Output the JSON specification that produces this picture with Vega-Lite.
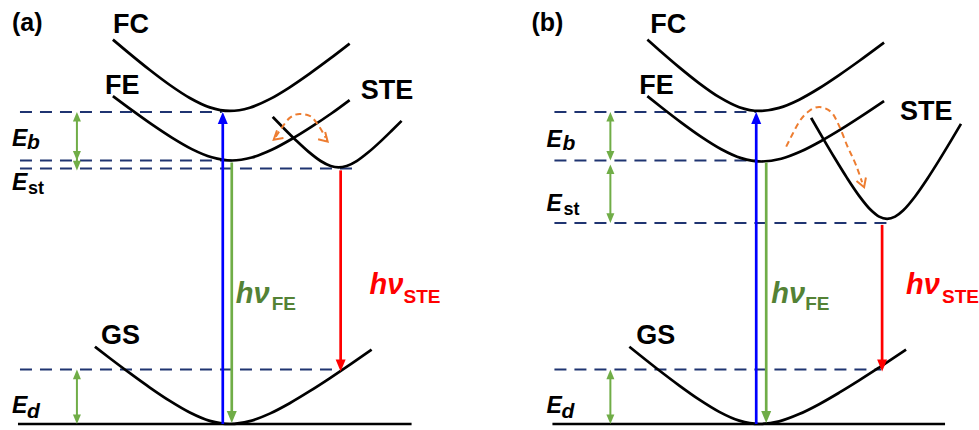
{
  "$schema": "https://vega.github.io/schema/vega-lite/v6.json",
  "width": 979,
  "height": 430,
  "autosize": {"type": "fit", "contains": "padding"},
  "padding": 0,
  "background": "white",
  "config": {"view": {"stroke": null}},
  "datasets": {
    "hlines": [
      {"x": 20, "x2": 222, "y": 113}, {"x": 20, "x2": 232, "y": 162}, {"x": 20, "x2": 355, "y": 170}, {"x": 20, "x2": 337, "y": 373},
      {"x": 555, "x2": 757, "y": 113}, {"x": 555, "x2": 757, "y": 162}, {"x": 555, "x2": 893, "y": 225}, {"x": 555, "x2": 882, "y": 373}
    ],
    "ground": [{"x": 18, "x2": 412, "y": 428}, {"x": 553, "x2": 946, "y": 428}],
    "curves": [
      {"curve": "FC a", "x": 113, "y": 40}, {"curve": "FC a", "x": 130, "y": 54.4}, {"curve": "FC a", "x": 150, "y": 70.7}, {"curve": "FC a", "x": 170, "y": 85.8}, {"curve": "FC a", "x": 190, "y": 98.9}, {"curve": "FC a", "x": 210, "y": 108.4}, {"curve": "FC a", "x": 230, "y": 112}, {"curve": "FC a", "x": 250, "y": 108.7}, {"curve": "FC a", "x": 270, "y": 100.1}, {"curve": "FC a", "x": 290, "y": 88.1}, {"curve": "FC a", "x": 310, "y": 74.3}, {"curve": "FC a", "x": 330, "y": 59.5}, {"curve": "FC a", "x": 350, "y": 44},
      {"curve": "FE a", "x": 113, "y": 97}, {"curve": "FE a", "x": 132, "y": 111.2}, {"curve": "FE a", "x": 152, "y": 125.6}, {"curve": "FE a", "x": 172, "y": 138.9}, {"curve": "FE a", "x": 192, "y": 150.5}, {"curve": "FE a", "x": 212, "y": 158.8}, {"curve": "FE a", "x": 232, "y": 162}, {"curve": "FE a", "x": 252, "y": 159}, {"curve": "FE a", "x": 272, "y": 151.2}, {"curve": "FE a", "x": 292, "y": 140.3}, {"curve": "FE a", "x": 312, "y": 127.8}, {"curve": "FE a", "x": 332, "y": 114.3}, {"curve": "FE a", "x": 350, "y": 101},
      {"curve": "STE a", "x": 273, "y": 118}, {"curve": "STE a", "x": 285, "y": 130.4}, {"curve": "STE a", "x": 297, "y": 142.3}, {"curve": "STE a", "x": 309, "y": 153.3}, {"curve": "STE a", "x": 321, "y": 162.5}, {"curve": "STE a", "x": 331, "y": 167.6}, {"curve": "STE a", "x": 339, "y": 169}, {"curve": "STE a", "x": 347, "y": 167.6}, {"curve": "STE a", "x": 357, "y": 162.6}, {"curve": "STE a", "x": 369, "y": 153.5}, {"curve": "STE a", "x": 381, "y": 142.7}, {"curve": "STE a", "x": 392, "y": 132}, {"curve": "STE a", "x": 402, "y": 122},
      {"curve": "GS a", "x": 95, "y": 350}, {"curve": "GS a", "x": 110, "y": 361.6}, {"curve": "GS a", "x": 130, "y": 376.7}, {"curve": "GS a", "x": 150, "y": 391.2}, {"curve": "GS a", "x": 170, "y": 404.7}, {"curve": "GS a", "x": 190, "y": 416.4}, {"curve": "GS a", "x": 210, "y": 424.8}, {"curve": "GS a", "x": 230, "y": 428}, {"curve": "GS a", "x": 250, "y": 425.1}, {"curve": "GS a", "x": 270, "y": 417.5}, {"curve": "GS a", "x": 290, "y": 407}, {"curve": "GS a", "x": 310, "y": 394.9}, {"curve": "GS a", "x": 330, "y": 381.9}, {"curve": "GS a", "x": 350, "y": 368.3}, {"curve": "GS a", "x": 372, "y": 353},
      {"curve": "FC b", "x": 648, "y": 40}, {"curve": "FC b", "x": 660, "y": 50.7}, {"curve": "FC b", "x": 680, "y": 68}, {"curve": "FC b", "x": 700, "y": 84.1}, {"curve": "FC b", "x": 720, "y": 98.1}, {"curve": "FC b", "x": 740, "y": 108.2}, {"curve": "FC b", "x": 760, "y": 112}, {"curve": "FC b", "x": 780, "y": 108.9}, {"curve": "FC b", "x": 800, "y": 100.6}, {"curve": "FC b", "x": 820, "y": 89.1}, {"curve": "FC b", "x": 840, "y": 75.8}, {"curve": "FC b", "x": 860, "y": 61.6}, {"curve": "FC b", "x": 885, "y": 43},
      {"curve": "FE b", "x": 648, "y": 97}, {"curve": "FE b", "x": 662, "y": 108.2}, {"curve": "FE b", "x": 682, "y": 123.7}, {"curve": "FE b", "x": 702, "y": 138.1}, {"curve": "FE b", "x": 722, "y": 150.6}, {"curve": "FE b", "x": 742, "y": 159.6}, {"curve": "FE b", "x": 762, "y": 163}, {"curve": "FE b", "x": 782, "y": 160.2}, {"curve": "FE b", "x": 802, "y": 152.7}, {"curve": "FE b", "x": 822, "y": 142.3}, {"curve": "FE b", "x": 842, "y": 130.4}, {"curve": "FE b", "x": 862, "y": 117.5}, {"curve": "FE b", "x": 885, "y": 102},
      {"curve": "STE b", "x": 812, "y": 119}, {"curve": "STE b", "x": 824, "y": 139.9}, {"curve": "STE b", "x": 836, "y": 160.3}, {"curve": "STE b", "x": 848, "y": 179.8}, {"curve": "STE b", "x": 860, "y": 197.7}, {"curve": "STE b", "x": 872, "y": 212.3}, {"curve": "STE b", "x": 880, "y": 218.7}, {"curve": "STE b", "x": 888, "y": 221}, {"curve": "STE b", "x": 896, "y": 218.7}, {"curve": "STE b", "x": 904, "y": 212.5}, {"curve": "STE b", "x": 916, "y": 198.3}, {"curve": "STE b", "x": 928, "y": 180.9}, {"curve": "STE b", "x": 940, "y": 161.9}, {"curve": "STE b", "x": 952, "y": 142}, {"curve": "STE b", "x": 962, "y": 125},
      {"curve": "GS b", "x": 630, "y": 350}, {"curve": "GS b", "x": 640, "y": 358.1}, {"curve": "GS b", "x": 660, "y": 374}, {"curve": "GS b", "x": 680, "y": 389.2}, {"curve": "GS b", "x": 700, "y": 403.4}, {"curve": "GS b", "x": 720, "y": 415.7}, {"curve": "GS b", "x": 740, "y": 424.6}, {"curve": "GS b", "x": 760, "y": 428}, {"curve": "GS b", "x": 780, "y": 425.3}, {"curve": "GS b", "x": 800, "y": 418}, {"curve": "GS b", "x": 820, "y": 408}, {"curve": "GS b", "x": 840, "y": 396.4}, {"curve": "GS b", "x": 860, "y": 384}, {"curve": "GS b", "x": 880, "y": 371}, {"curve": "GS b", "x": 907, "y": 353}
    ],
    "swirls": [
      {"arc": "a", "x": 276, "y": 138}, {"arc": "a", "x": 282, "y": 129}, {"arc": "a", "x": 290, "y": 119}, {"arc": "a", "x": 300, "y": 115}, {"arc": "a", "x": 310, "y": 117}, {"arc": "a", "x": 319, "y": 127}, {"arc": "a", "x": 326, "y": 139},
      {"arc": "b", "x": 787, "y": 148}, {"arc": "b", "x": 793, "y": 136}, {"arc": "b", "x": 800, "y": 123}, {"arc": "b", "x": 810, "y": 112}, {"arc": "b", "x": 820, "y": 108}, {"arc": "b", "x": 832, "y": 113}, {"arc": "b", "x": 840, "y": 127}, {"arc": "b", "x": 848, "y": 147}, {"arc": "b", "x": 857, "y": 167}, {"arc": "b", "x": 863, "y": 184}
    ],
    "swirlTips": [
      {"end": "a left", "x": 274, "y": 141}, {"end": "a right", "x": 328, "y": 143}, {"end": "b", "x": 865, "y": 189}
    ],
    "shafts": [
      {"kind": "absorption", "x": 223, "y": 428, "y2": 122}, {"kind": "FE emission", "x": 232, "y": 164, "y2": 418}, {"kind": "STE emission", "x": 341, "y": 172, "y2": 364},
      {"kind": "absorption", "x": 757, "y": 428, "y2": 122}, {"kind": "FE emission", "x": 767, "y": 164, "y2": 418}, {"kind": "STE emission", "x": 883, "y": 227, "y2": 364}
    ],
    "gaps": [
      {"x": 77, "y": 119, "y2": 165}, {"x": 77, "y": 379, "y2": 422},
      {"x": 611, "y": 119, "y2": 156}, {"x": 611, "y": 172, "y2": 219}, {"x": 611, "y": 379, "y2": 422}
    ],
    "heads": [
      {"kind": "absorption", "x": 223, "y": 113, "dir": "up"}, {"kind": "FE emission", "x": 232, "y": 427, "dir": "down"}, {"kind": "STE emission", "x": 341, "y": 375, "dir": "down"},
      {"kind": "absorption", "x": 757, "y": 113, "dir": "up"}, {"kind": "FE emission", "x": 767, "y": 427, "dir": "down"}, {"kind": "STE emission", "x": 883, "y": 375, "dir": "down"}
    ],
    "gapHeads": [
      {"x": 77, "y": 113, "dir": "up"}, {"x": 77, "y": 162, "dir": "down"}, {"x": 77, "y": 172, "dir": "down"}, {"x": 77, "y": 373, "dir": "up"}, {"x": 77, "y": 428, "dir": "down"},
      {"x": 611, "y": 113, "dir": "up"}, {"x": 611, "y": 162, "dir": "down"}, {"x": 611, "y": 166, "dir": "up"}, {"x": 611, "y": 225, "dir": "down"}, {"x": 611, "y": 373, "dir": "up"}, {"x": 611, "y": 428, "dir": "down"}
    ],
    "panels": [{"text": "(a)", "x": 12, "y": 31}, {"text": "(b)", "x": 532, "y": 31}],
    "states": [
      {"text": "FC", "x": 113, "y": 33}, {"text": "FE", "x": 105, "y": 95}, {"text": "STE", "x": 361, "y": 100}, {"text": "GS", "x": 101, "y": 347},
      {"text": "FC", "x": 651, "y": 33}, {"text": "FE", "x": 640, "y": 95}, {"text": "STE", "x": 901, "y": 121}, {"text": "GS", "x": 637, "y": 347}
    ],
    "hvFE": [{"text": "hν", "x": 236, "y": 306}, {"text": "hν", "x": 772, "y": 306}],
    "subFE": [{"text": "FE", "x": 272, "y": 313}, {"text": "FE", "x": 806, "y": 313}],
    "hvSTE": [{"text": "hν", "x": 370, "y": 297}, {"text": "hν", "x": 907, "y": 297}],
    "subSTE": [{"text": "STE", "x": 404, "y": 306}, {"text": "STE", "x": 943, "y": 306}],
    "energies": [
      {"text": "E", "x": 12, "y": 147}, {"text": "E", "x": 12, "y": 192}, {"text": "E", "x": 12, "y": 417},
      {"text": "E", "x": 547, "y": 148}, {"text": "E", "x": 547, "y": 213}, {"text": "E", "x": 547, "y": 417}
    ],
    "subItalic": [{"text": "b", "x": 27, "y": 150}, {"text": "d", "x": 27, "y": 422}, {"text": "b", "x": 563, "y": 151}, {"text": "d", "x": 562, "y": 422}],
    "subSt": [{"text": "st", "x": 28, "y": 196}, {"text": "st", "x": 564, "y": 217}]
  },
  "encoding": {
    "x": {"field": "x", "type": "quantitative", "scale": {"domain": [0, 979], "nice": false, "zero": false}, "axis": null},
    "y": {"field": "y", "type": "quantitative", "scale": {"domain": [430, 0], "nice": false, "zero": false}, "axis": null}
  },
  "layer": [
    {"data": {"name": "hlines"}, "mark": {"type": "rule", "color": "#1F3471", "strokeWidth": 2, "strokeDash": [12, 8]}, "encoding": {"x2": {"field": "x2"}}},
    {"data": {"name": "ground"}, "mark": {"type": "rule", "color": "#000000", "strokeWidth": 2.5}, "encoding": {"x2": {"field": "x2"}}},
    {"data": {"name": "curves"}, "mark": {"type": "line", "color": "#000000", "strokeWidth": 2.7, "interpolate": "monotone", "strokeCap": "butt"}, "encoding": {"detail": {"field": "curve", "type": "nominal"}}},
    {"data": {"name": "swirls"}, "mark": {"type": "line", "color": "#ED7D31", "strokeWidth": 2, "strokeDash": [6, 4], "interpolate": "monotone"}, "encoding": {"detail": {"field": "arc", "type": "nominal"}}},
    {"data": {"name": "swirlTips"}, "transform": [{"filter": "datum.end === 'a left'"}], "mark": {"type": "point", "shape": "M-1,-1.7L0,0L1,-1.7", "filled": false, "color": "#ED7D31", "strokeWidth": 2, "size": 100, "opacity": 1, "angle": 50}},
    {"data": {"name": "swirlTips"}, "transform": [{"filter": "datum.end === 'a right'"}], "mark": {"type": "point", "shape": "M-1,-1.7L0,0L1,-1.7", "filled": false, "color": "#ED7D31", "strokeWidth": 2, "size": 100, "opacity": 1, "angle": -45}},
    {"data": {"name": "swirlTips"}, "transform": [{"filter": "datum.end === 'b'"}], "mark": {"type": "point", "shape": "M-1,-1.7L0,0L1,-1.7", "filled": false, "color": "#ED7D31", "strokeWidth": 2, "size": 100, "opacity": 1, "angle": -20}},
    {"data": {"name": "gaps"}, "mark": {"type": "rule", "color": "#70AD47", "strokeWidth": 2}, "encoding": {"y2": {"field": "y2"}}},
    {"data": {"name": "gapHeads"}, "mark": {"type": "point", "filled": true, "color": "#70AD47", "size": 64, "opacity": 1, "strokeWidth": 0},
      "encoding": {"shape": {"field": "dir", "type": "nominal", "scale": {"domain": ["up", "down"], "range": ["M0,0L-1,2.4L1,2.4Z", "M0,0L-1,-2.4L1,-2.4Z"]}, "legend": null}}},
    {"data": {"name": "shafts"}, "mark": {"type": "rule", "strokeWidth": 2.7},
      "encoding": {"y2": {"field": "y2"}, "color": {"field": "kind", "type": "nominal", "scale": {"domain": ["absorption", "FE emission", "STE emission"], "range": ["#0000FF", "#70AD47", "#FF0000"]}, "legend": null}}},
    {"data": {"name": "heads"}, "mark": {"type": "point", "filled": true, "size": 100, "opacity": 1, "strokeWidth": 0},
      "encoding": {
        "color": {"field": "kind", "type": "nominal", "scale": {"domain": ["absorption", "FE emission", "STE emission"], "range": ["#0000FF", "#70AD47", "#FF0000"]}, "legend": null},
        "shape": {"field": "dir", "type": "nominal", "scale": {"domain": ["up", "down"], "range": ["M0,0L-1,2.4L1,2.4Z", "M0,0L-1,-2.4L1,-2.4Z"]}, "legend": null}}},
    {"data": {"name": "panels"}, "mark": {"type": "text", "align": "left", "baseline": "alphabetic", "font": "Liberation Sans", "fontSize": 25, "fontWeight": "bold", "color": "#000000"}, "encoding": {"text": {"field": "text"}}},
    {"data": {"name": "states"}, "mark": {"type": "text", "align": "left", "baseline": "alphabetic", "font": "Liberation Sans", "fontSize": 27, "fontWeight": "bold", "color": "#000000"}, "encoding": {"text": {"field": "text"}}},
    {"data": {"name": "hvFE"}, "mark": {"type": "text", "align": "left", "baseline": "alphabetic", "font": "Liberation Sans", "fontSize": 29, "fontWeight": "bold", "fontStyle": "italic", "color": "#548235"}, "encoding": {"text": {"field": "text"}}},
    {"data": {"name": "subFE"}, "mark": {"type": "text", "align": "left", "baseline": "alphabetic", "font": "Liberation Sans", "fontSize": 19, "fontWeight": "bold", "color": "#548235"}, "encoding": {"text": {"field": "text"}}},
    {"data": {"name": "hvSTE"}, "mark": {"type": "text", "align": "left", "baseline": "alphabetic", "font": "Liberation Sans", "fontSize": 29, "fontWeight": "bold", "fontStyle": "italic", "color": "#FF0000"}, "encoding": {"text": {"field": "text"}}},
    {"data": {"name": "subSTE"}, "mark": {"type": "text", "align": "left", "baseline": "alphabetic", "font": "Liberation Sans", "fontSize": 19, "fontWeight": "bold", "color": "#FF0000"}, "encoding": {"text": {"field": "text"}}},
    {"data": {"name": "energies"}, "mark": {"type": "text", "align": "left", "baseline": "alphabetic", "font": "Liberation Sans", "fontSize": 23, "fontWeight": "bold", "fontStyle": "italic", "color": "#000000"}, "encoding": {"text": {"field": "text"}}},
    {"data": {"name": "subItalic"}, "mark": {"type": "text", "align": "left", "baseline": "alphabetic", "font": "Liberation Sans", "fontSize": 21, "fontWeight": "bold", "fontStyle": "italic", "color": "#000000"}, "encoding": {"text": {"field": "text"}}},
    {"data": {"name": "subSt"}, "mark": {"type": "text", "align": "left", "baseline": "alphabetic", "font": "Liberation Sans", "fontSize": 18, "fontWeight": "bold", "color": "#000000"}, "encoding": {"text": {"field": "text"}}}
  ]
}
